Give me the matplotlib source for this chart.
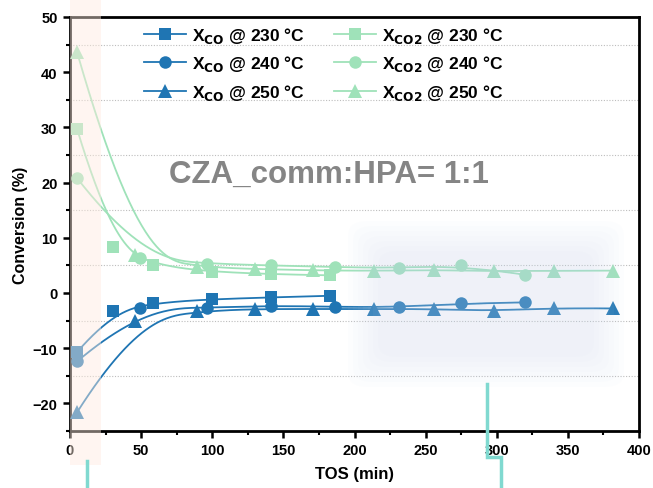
import numpy as np
import matplotlib
matplotlib.use("Agg")
import matplotlib.pyplot as plt
from matplotlib.patches import Rectangle, FancyBboxPatch
from matplotlib.lines import Line2D
from matplotlib.ticker import MultipleLocator

plt.rcParams['font.family'] = ['Liberation Sans', 'DejaVu Sans']
plt.rcParams['font.weight'] = 'bold'
plt.rcParams['mathtext.default'] = 'bf'

# ---------------- data ----------------
x230 = [5, 30, 58, 100, 141, 183]
xco_230 = [-10.7, -3.3, -1.8, -1.1, -0.8, -0.5]
xco2_230 = [29.7, 8.4, 5.0, 3.8, 3.4, 3.2]

x240 = [5, 49, 96, 141, 186, 231, 275, 320]
xco_240 = [-12.4, -2.8, -2.7, -2.3, -2.5, -2.6, -1.9, -1.7]
xco2_240 = [20.8, 6.3, 5.3, 5.0, 4.7, 4.5, 5.0, 3.3]

x250 = [5, 46, 89, 130, 171, 214, 256, 298, 340, 382]
xco_250 = [-21.6, -5.0, -3.3, -2.9, -2.9, -2.9, -2.9, -3.3, -2.7, -2.8]
xco2_250 = [43.6, 6.8, 4.7, 4.35, 4.1, 4.0, 4.2, 3.9, 4.05, 4.05]

temps = ["230", "240", "250"]
annotation = "CZA_comm:HPA= 1:1"

BLUE = '#1f75b3'
GREEN = '#9fe2b9'


def bspline(xs, ys, k=3, num=400):
    P = np.column_stack([xs, ys]).astype(float)
    n = len(P)
    k = min(k, n - 1)
    inner = np.arange(1, n - k)
    t = np.concatenate([np.zeros(k + 1), inner, np.full(k + 1, n - k)]).astype(float)
    u = np.linspace(0, n - k, num)
    u[-1] -= 1e-9
    N = np.zeros((num, len(t) - 1))
    for i in range(len(t) - 1):
        N[:, i] = ((t[i] <= u) & (u < t[i + 1])).astype(float)
    for d in range(1, k + 1):
        Nn = np.zeros((num, len(t) - 1 - d))
        for i in range(len(t) - 1 - d):
            a = 0.0
            b = 0.0
            if t[i + d] != t[i]:
                a = (u - t[i]) / (t[i + d] - t[i]) * N[:, i]
            if t[i + d + 1] != t[i + 1]:
                b = (t[i + d + 1] - u) / (t[i + d + 1] - t[i + 1]) * N[:, i + 1]
            Nn[:, i] = a + b
        N = Nn
    C = N @ P
    return C[:, 0], C[:, 1]


W, H = 653, 489
fig = plt.figure(figsize=(W / 100, H / 100), dpi=100)
ax = fig.add_axes([70 / W, 1 - 432 / H, (639 - 70) / W, (432 - 18) / H])

ax.set_xlim(0, 400)
ax.set_ylim(-25, 50)

# grid at minor y positions
for yv in np.arange(-15, 50, 10):
    ax.axhline(yv, color='#bdbdbd', lw=0.8, ls=(0, (1, 1.5)), zorder=1)

series = [
    (x230, xco_230, BLUE, 's', 8, r'X$_{\mathbf{CO}}$ @ 230 °C'),
    (x240, xco_240, BLUE, 'o', 9, r'X$_{\mathbf{CO}}$ @ 240 °C'),
    (x250, xco_250, BLUE, '^', 10, r'X$_{\mathbf{CO}}$ @ 250 °C'),
    (x230, xco2_230, GREEN, 's', 8, r'X$_{\mathbf{CO2}}$ @ 230 °C'),
    (x240, xco2_240, GREEN, 'o', 9, r'X$_{\mathbf{CO2}}$ @ 240 °C'),
    (x250, xco2_250, GREEN, '^', 10, r'X$_{\mathbf{CO2}}$ @ 250 °C'),
]

handles = []
for xs, ys, col, mk, ms, lab in series:
    bx, by = bspline(xs, ys)
    ax.plot(bx, by, color=col, lw=1.3, zorder=2)
    ax.plot(xs, ys, ls='none', marker=mk, ms=ms, color=col, mew=0, zorder=3)
    handles.append(Line2D([], [], color=col, lw=1.3, marker=mk, ms=ms, mew=0, label=lab))

leg = ax.legend(handles=handles, ncol=2, loc='upper left',
                bbox_to_anchor=(62 / (639 - 70), 1.01), frameon=False,
                prop={'size': 12.5, 'weight': 'bold'}, handlelength=2.4, handletextpad=0.35,
                columnspacing=1.7, labelspacing=0.48, borderaxespad=0.3)

ax.text(0.455, 0.62, annotation, transform=ax.transAxes, ha='center', va='center',
        fontsize=22.5, fontweight='bold', color='#858585')

ax.xaxis.set_major_locator(MultipleLocator(50))
ax.xaxis.set_minor_locator(MultipleLocator(25))
ax.yaxis.set_major_locator(MultipleLocator(10))
ax.yaxis.set_minor_locator(MultipleLocator(5))
ax.tick_params(which='major', direction='out', length=5, width=1.8, labelsize=10.5,
               top=False, right=False, pad=4)
ax.tick_params(which='minor', direction='out', length=3, width=1.5, top=False, right=False)
for lab in ax.get_xticklabels() + ax.get_yticklabels():
    lab.set_fontweight('bold')
for sp in ax.spines.values():
    sp.set_linewidth(2)

ax.set_xlabel('TOS (min)', fontsize=12, fontweight='bold', labelpad=6)
ax.set_ylabel('Conversion (%)', fontsize=11.5, fontweight='bold', labelpad=3)

# --- overlays present in the reference picture ---
def fx(px):
    return px / W

def fy(py):
    return 1 - py / H

# peach band
fig.patches.append(Rectangle((fx(70), fy(466)), fx(101) - fx(70), fy(0) - fy(466),
                             transform=fig.transFigure, facecolor=(1.0, 0.92, 0.88),
                             alpha=0.45, edgecolor='none', zorder=10))
# soft blue region (layered for blurred edge)
for i in range(7):
    inset = i * 5
    fig.patches.append(FancyBboxPatch((fx(348 + inset), fy(388 - inset)),
                                      fx(624 - 348 - 2 * inset), fy(222 + inset) - fy(388 - inset),
                                      boxstyle='round,pad=0,rounding_size=0.03',
                                      transform=fig.transFigure,
                                      facecolor=(0.8, 0.86, 0.96), alpha=0.045,
                                      edgecolor='none', zorder=10))
# cyan marks
CY = '#80d9d0'
fig.add_artist(Line2D([fx(87), fx(87)], [fy(462), fy(489)], color=CY, lw=2.5,
                      transform=fig.transFigure, zorder=11))
fig.add_artist(Line2D([fx(487), fx(487), fx(501), fx(501)],
                      [fy(385), fy(458), fy(458), fy(489)], color=CY, lw=2.5,
                      transform=fig.transFigure, zorder=11, solid_joinstyle='miter'))

fig.savefig('out.png', dpi=100)
